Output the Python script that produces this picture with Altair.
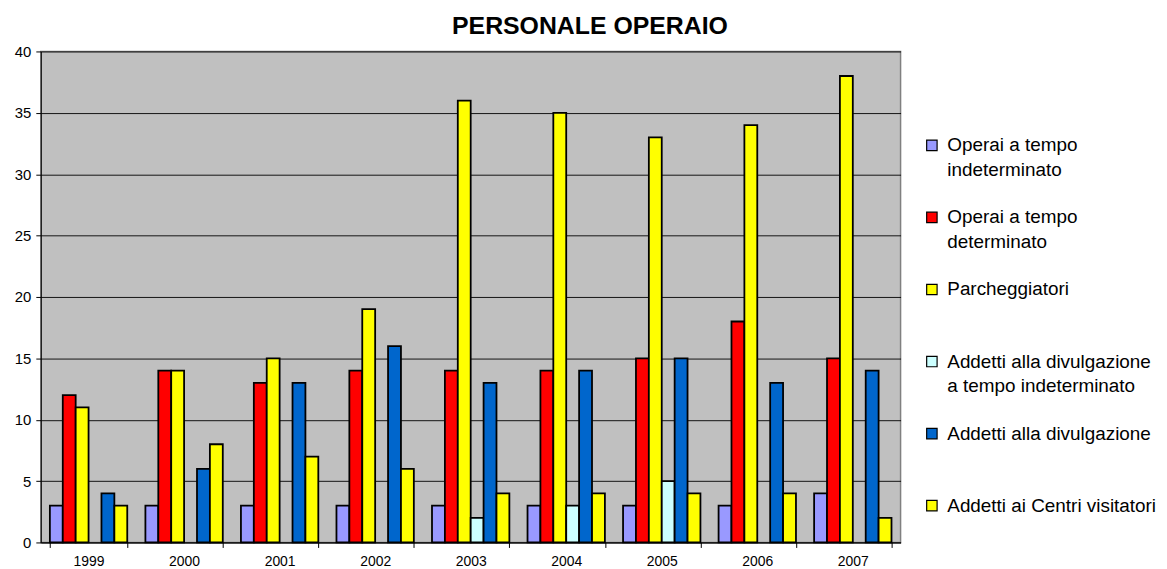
import altair as alt
import pandas as pd

years = ["1999", "2000", "2001", "2002", "2003", "2004", "2005", "2006", "2007"]
series = [
    "Operai a tempo indeterminato",
    "Operai a tempo determinato",
    "Parcheggiatori",
    "Addetti alla divulgazione a tempo indeterminato",
    "Addetti alla divulgazione",
    "Addetti ai Centri visitatori",
]
colors = ["#9999FF", "#FF0000", "#FFFF00", "#CCFFFF", "#0066CC", "#FFFF00"]

operai_indet = [3, 3, 3, 3, 3, 3, 3, 3, 4]
operai_det = [12, 14, 13, 14, 14, 14, 15, 18, 15]
parcheggiatori = [11, 14, 15, 19, 36, 35, 33, 34, 38]
divulg_indet = [None, None, None, None, 2, 3, 5, None, None]
divulgazione = [4, 6, 13, 16, 13, 14, 15, 13, 14]
centri = [3, 8, 7, 6, 4, 4, 4, 4, 2]

legend_lines = [
    ["Operai a tempo", "indeterminato"],
    ["Operai a tempo", "determinato"],
    ["Parcheggiatori", ""],
    ["Addetti alla divulgazione", "a tempo indeterminato"],
    ["Addetti alla divulgazione", ""],
    ["Addetti ai Centri visitatori", ""],
]

values = [operai_indet, operai_det, parcheggiatori, divulg_indet, divulgazione, centri]
rows = []
for s, vals in zip(series, values):
    for y, v in zip(years, vals):
        if v is not None:
            rows.append({"Anno": y, "Serie": s, "Valore": v})
df = pd.DataFrame(rows)

label_expr = ""
for s, lines in zip(series, legend_lines):
    label_expr += "datum.label == '%s' ? ['%s', '%s'] : " % (s, lines[0], lines[1])
label_expr += "datum.label"

FONT = "Liberation Sans"

chart = alt.Chart(df).mark_bar(stroke="black", strokeWidth=1.8).encode(
    x=alt.X(
        "Anno:N",
        sort=years,
        title=None,
        scale=alt.Scale(paddingInner=0.19, paddingOuter=0.095),
        axis=alt.Axis(
            labelAngle=0, tickBand="extent", domainColor="black", tickColor="black",
            labelFontSize=14, labelColor="black", labelFont=FONT, labelPadding=7, tickSize=5,
        ),
    ),
    xOffset=alt.XOffset("Serie:N", sort=series, scale=alt.Scale(domain=series)),
    y=alt.Y(
        "Valore:Q",
        title=None,
        scale=alt.Scale(domain=[0, 40]),
        axis=alt.Axis(
            values=list(range(0, 41, 5)), gridColor="black", gridWidth=1, gridOpacity=0.9,
            domainColor="black", tickColor="black", tickSize=5, labelFontSize=15,
            labelColor="black", labelFont=FONT, labelPadding=5,
        ),
    ),
    color=alt.Color(
        "Serie:N",
        sort=series,
        scale=alt.Scale(domain=series, range=colors),
        legend=alt.Legend(
            title=None, orient="none", legendX=887, legendY=85,
            symbolType="square", symbolSize=110, symbolStrokeColor="black", symbolStrokeWidth=1.2,
            labelFontSize=19, labelFont=FONT, labelColor="black", labelLimit=400, labelOffset=6,
            rowPadding=27.5, labelExpr=label_expr,
        ),
    ),
).properties(
    width=865,
    height=494,
    autosize="none",
    padding={"left": 33, "top": 42, "right": 260, "bottom": 25},
    title=alt.Title(
        "PERSONALE OPERAIO", fontSize=25, font=FONT, fontWeight="bold", color="black",
        anchor="middle", frame="group", dx=120, offset=6,
    ),
).configure(
    style={"guide-label": {"lineHeight": 25}},
    view=alt.ViewConfig(fill="#C0C0C0", stroke="#808080", strokeWidth=1.5),
)

chart.save("out.html", embed_options={"renderer": "svg", "actions": False})
